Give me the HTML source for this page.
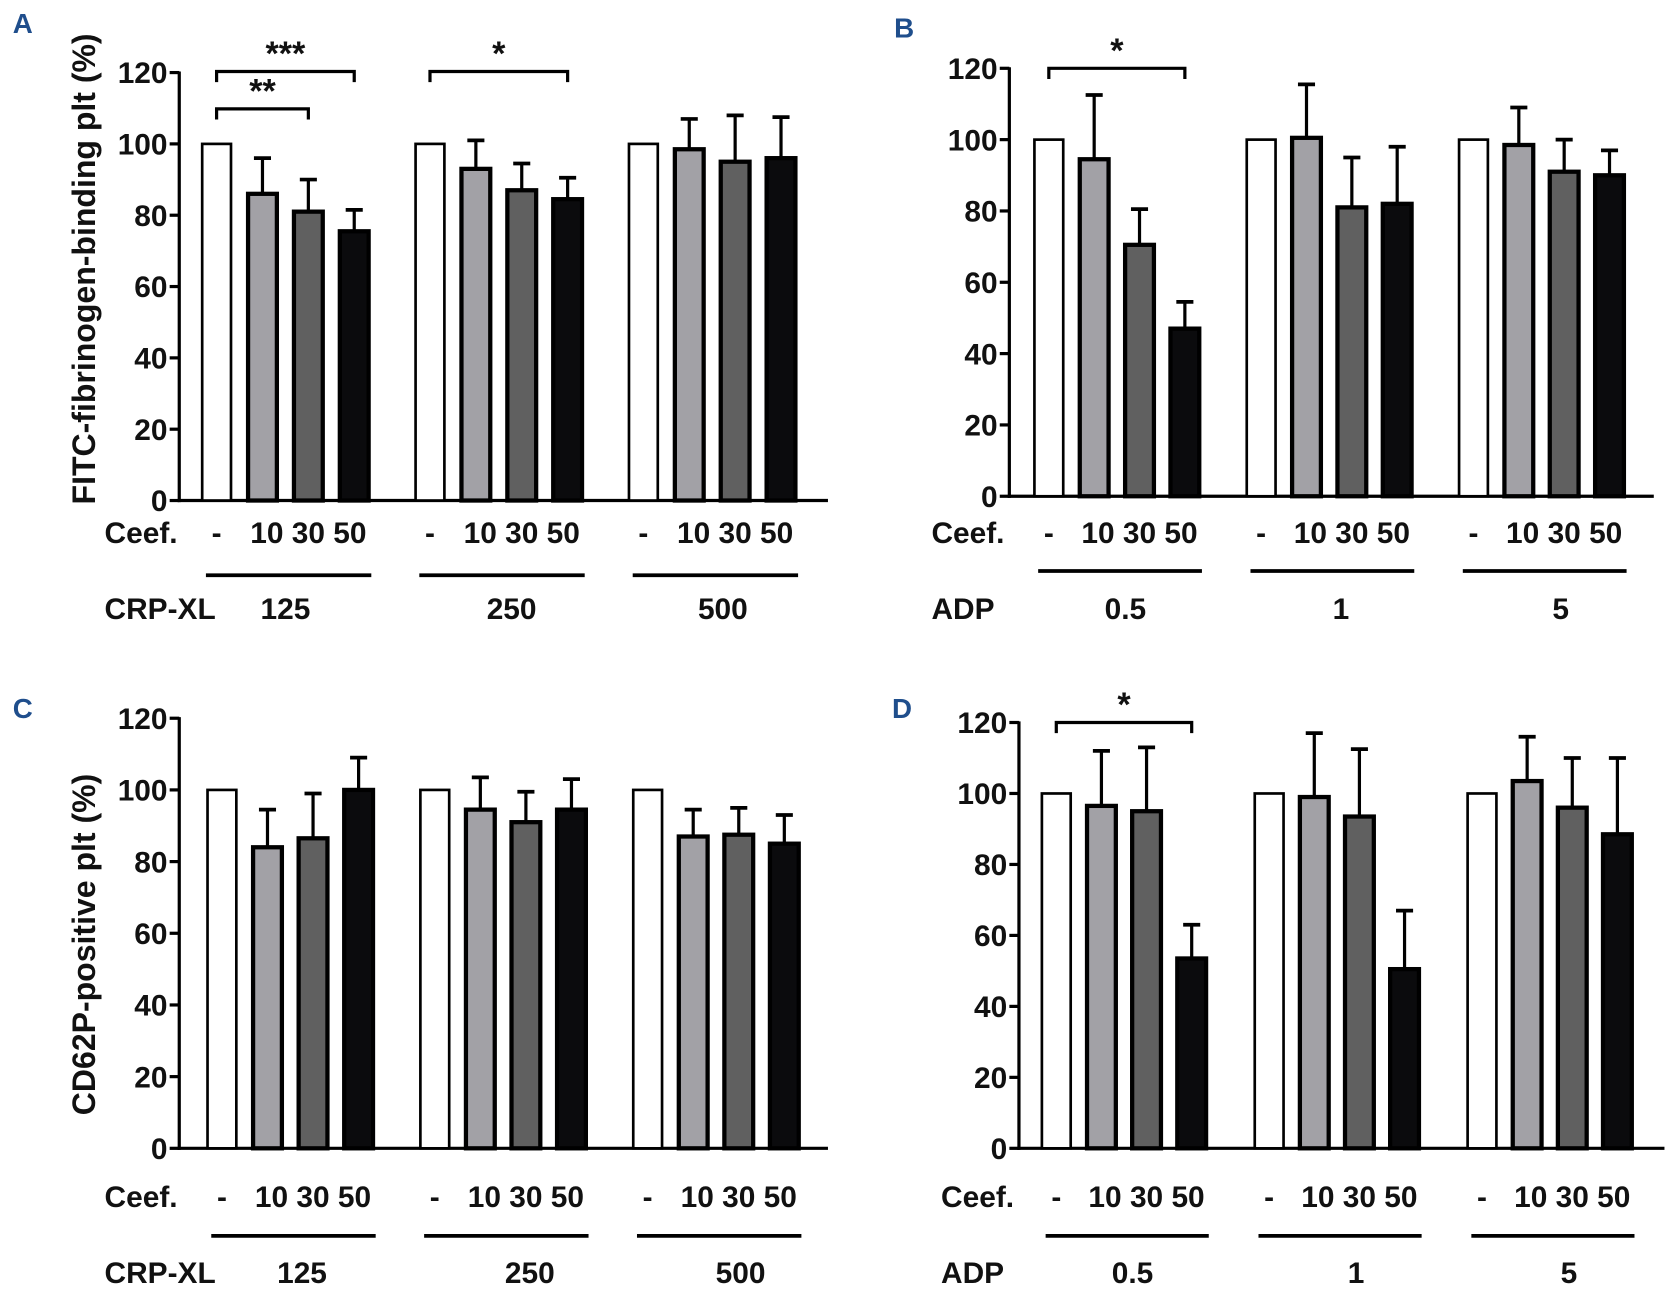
<!DOCTYPE html>
<html><head><meta charset="utf-8">
<style>
html,body{margin:0;padding:0;background:#fff;}
svg{display:block;}
text{font-family:"Liberation Sans Narrow","Liberation Sans",sans-serif;font-weight:bold;fill:#111;}
</style></head>
<body>
<svg id="fig" width="1673" height="1302" viewBox="0 0 1568 1220" preserveAspectRatio="none" xmlns="http://www.w3.org/2000/svg"></svg>
<script>
const yTicks = [0,20,40,60,80,100,120];
const ceefLabels = ["-","10","30","50"];
const seriesColors = ["#ffffff","#a2a1a6","#606060","#0b0b0d"];
// Panel A
const aGroups = ["125","250","500"];
const aMeans = [[100,86,81,75.5],[100,93,87,84.5],[100,98.5,95,96]];
const aErrs = [[100,96,90,81.5],[100,101,94.5,90.5],[100,107,108,107.5]];
// Panel B
const bGroups = ["0.5","1","5"];
const bMeans = [[100,94.5,70.5,47],[100,100.5,81,82],[100,98.5,91,90]];
const bErrs = [[100,112.5,80.5,54.5],[100,115.5,95,98],[100,109,100,97]];
// Panel C
const cGroups = ["125","250","500"];
const cMeans = [[100,84,86.5,100],[100,94.5,91,94.5],[100,87,87.5,85]];
const cErrs = [[100,94.5,99,109],[100,103.5,99.5,103],[100,94.5,95,93]];
// Panel D
const dGroups = ["0.5","1","5"];
const dMeans = [[100,96.5,95,53.5],[100,99,93.5,50.5],[100,103.5,96,88.5]];
const dErrs = [[100,112,113,63],[100,117,112.5,67],[100,116,110,110]];

const NS="http://www.w3.org/2000/svg";
const svg=document.getElementById('fig');
function mk(tag,attrs,parent,txt){const e=document.createElementNS(NS,tag);for(const k in attrs)e.setAttribute(k,attrs[k]);if(txt!==undefined)e.textContent=txt;(parent||svg).appendChild(e);return e;}

function panel(cfg){
  const g=mk('g',{});
  
  
  const y=v=>cfg.y0-(v/120)*(cfg.y0-cfg.y120);
  const xc=(gi,si)=>cfg.x0+gi*cfg.gstep+si*cfg.sstep;
  const lab=mk('text',{x:cfg.lx,y:cfg.ly,'font-size':26,'font-family':'Liberation Sans',style:'fill:#1f4e8c'},g,cfg.id);
  
  
  const ya=mk('line',{x1:cfg.ax,y1:cfg.y120-1,x2:cfg.ax,y2:cfg.y0+1.5,stroke:'#000','stroke-width':3},g);
  
  
  const xa=mk('line',{x1:cfg.ax-1.5,y1:cfg.y0,x2:cfg.axEnd,y2:cfg.y0,stroke:'#000','stroke-width':3},g);
  
  
  yTicks.forEach(t=>{
    mk('line',{x1:cfg.ax-9,y1:y(t),x2:cfg.ax,y2:y(t),stroke:'#000','stroke-width':3},g);
    const tl=mk('text',{x:cfg.ax-11,y:y(t)+10,'font-size':28,'text-anchor':'end'},g,String(t));
    
    
  });
  if(cfg.title){
    const tt=mk('text',{x:0,y:0,'font-size':30,'text-anchor':'middle','font-family':'Liberation Sans',transform:`translate(${cfg.tx},${cfg.ty}) rotate(-90)`},g,cfg.title);
    
    
  }
  const bw=27;
  cfg.means.forEach((grp,gi)=>{
    grp.forEach((v,si)=>{
      const cx=xc(gi,si);
      const e=cfg.errs[gi][si];
      if(e>v){
        mk('line',{x1:cx,y1:y(v),x2:cx,y2:y(e),stroke:'#000','stroke-width':3},g);
        mk('line',{x1:cx-8,y1:y(e),x2:cx+8,y2:y(e),stroke:'#000','stroke-width':3.5},g);
      }
      const r=mk('rect',{x:cx-bw/2,y:y(v),width:bw,height:cfg.y0-y(v),fill:seriesColors[si],stroke:'#000','stroke-width':si===0?2.5:4},g);
      
      
    });
    const dl=mk('text',{x:xc(gi,0),y:cfg.cy,'font-size':28,'text-anchor':'middle'},g,ceefLabels[0]);
    
    
    const nl=mk('text',{x:xc(gi,2),y:cfg.cy,'font-size':28,'text-anchor':'middle'},g,ceefLabels.slice(1).join(' '));
    
    
    const ul=mk('line',{x1:xc(gi,0)-10,y1:cfg.uy,x2:xc(gi,3)+16,y2:cfg.uy,stroke:'#000','stroke-width':3.5},g);
    
    
    const gl=mk('text',{x:(xc(gi,0)+xc(gi,3))/2+cfg.goff[gi],y:cfg.gy,'font-size':28,'text-anchor':'middle'},g,cfg.groups[gi]);
    
    
  });
  const ce=mk('text',{x:cfg.rowx,y:cfg.cy,'font-size':28},g,'Ceef.');
  
  
  const ag=mk('text',{x:cfg.rowx,y:cfg.gy,'font-size':28},g,cfg.agonist);
  
  
  (cfg.brackets||[]).forEach(b=>{
    const x1=xc(b[0],b[1]),x2=xc(b[0],b[2]),by=b[3];
    const p=mk('path',{d:`M${x1},${by+10} V${by} H${x2} V${by+10}`,fill:'none',stroke:'#000','stroke-width':3},g);
    
    
    const s=mk('text',{x:(x1+x2)/2,y:by-6,'font-size':32,'text-anchor':'middle','font-family':'Liberation Sans'},g,b[4]);
    
    
  });
}

panel({id:'A',lx:12,ly:31,ax:168,axEnd:776,y120:68,y0:469,x0:203,gstep:200,sstep:43,
  means:aMeans,errs:aErrs,groups:aGroups,agonist:'CRP-XL',rowx:98,cy:509,uy:539,gy:580,goff:[0,12,10],
  title:'FITC-fibrinogen-binding plt (%)',tx:89,ty:252,
  brackets:[[0,0,3,67,'***'],[0,0,2,102,'**'],[1,0,3,67,'*']]});
panel({id:'B',lx:838,ly:35,ax:946,axEnd:1550,y120:64,y0:465,x0:983,gstep:199,sstep:42.5,
  means:bMeans,errs:bErrs,groups:bGroups,agonist:'ADP',rowx:873,cy:509,uy:535,gy:580,goff:[8,11,18],
  brackets:[[0,0,3,64,'*']]});
panel({id:'C',lx:12,ly:673,ax:168,axEnd:776,y120:673,y0:1076,x0:208,gstep:199.5,sstep:42.7,
  means:cMeans,errs:cErrs,groups:cGroups,agonist:'CRP-XL',rowx:98,cy:1131,uy:1158,gy:1202,goff:[11,25,23],
  title:'CD62P-positive plt (%)',tx:89,ty:885});
panel({id:'D',lx:836,ly:673,ax:955,axEnd:1560,y120:677,y0:1076,x0:990,gstep:199.5,sstep:42.3,
  means:dMeans,errs:dErrs,groups:dGroups,agonist:'ADP',rowx:882,cy:1131,uy:1158,gy:1202,goff:[8,18,18],
  brackets:[[0,0,3,677,'*']]});
</script>
</body></html>
